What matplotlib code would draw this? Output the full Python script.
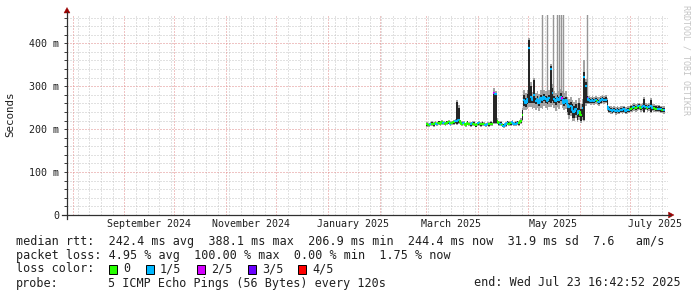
import matplotlib
matplotlib.use('Agg')
import matplotlib.pyplot as plt
import matplotlib.dates as mdates
import numpy as np
import datetime as dt
from matplotlib.collections import LineCollection
from matplotlib.patches import Rectangle, Polygon
from matplotlib.lines import Line2D

# ---------------- data (ms), one value per day starting 2025-03-01 ----------------
first_day = dt.datetime(2025, 3, 1)
median = [211,210,212,213,211,214,212,215,213,216,
          214,212,215,217,213,214,216,218,219,222,
          216,213,214,210,215,212,211,214,213,209,
          212,214,211,213,212,210,212,211,213,212,
          284,282,218,214,213,210,208,212,215,213,
          214,216,212,213,215,214,218,232,268,262,
          270,389,275,268,280,265,270,262,272,268,
          275,270,266,272,340,285,270,265,272,268,
          275,270,262,268,258,252,255,245,240,248,
          236,242,232,250,322,300,272,268,266,267,
          265,268,266,264,267,270,268,269,255,246,
          244,243,245,242,244,243,245,244,246,243,
          244,245,248,250,252,249,251,253,250,252,
          254,252,250,251,253,250,249,248,247,248,
          246,245,244]
smoke_lo = [208,207,209,210,208,211,209,211,210,212,
            211,209,211,213,210,211,212,214,212,214,
            212,210,211,207,211,209,208,210,210,206,
            209,210,208,210,209,207,209,208,210,209,
            214,215,214,210,209,206,204,208,211,210,
            210,212,209,210,211,210,214,222,255,252,
            258,262,262,260,262,258,262,255,262,260,
            265,262,258,264,262,266,262,256,264,260,
            266,262,254,258,240,232,238,226,226,232,
            222,228,220,228,222,262,262,262,261,262,
            260,263,261,259,262,265,263,264,246,240,
            239,238,240,237,239,238,240,239,241,238,
            239,240,243,244,246,244,246,247,244,246,
            240,247,244,246,240,245,244,243,242,243,
            241,240,239]
smoke_hi = [214,213,215,216,214,217,215,218,216,219,
            217,215,218,220,216,217,219,222,263,250,
            219,216,217,213,218,215,214,217,216,212,
            215,217,214,216,215,213,215,214,216,215,
            286,284,222,217,216,213,211,215,218,216,
            217,219,215,216,218,217,222,245,280,272,
            282,408,300,276,315,272,278,270,280,276,
            282,278,274,280,348,295,278,272,280,276,
            284,278,272,276,266,262,264,258,254,258,
            250,260,248,258,333,310,278,273,271,272,
            270,273,271,269,272,275,273,274,268,251,
            249,248,250,247,249,248,250,249,251,248,
            249,250,253,255,257,254,256,258,255,257,
            270,257,255,256,268,255,254,253,252,253,
            251,250,249]
gray_lo = [206,205,207,208,206,209,207,209,208,210,
           209,207,209,211,208,209,210,212,210,212,
           210,208,209,205,209,207,206,208,208,204,
           207,208,206,208,207,205,207,206,208,207,
           212,212,212,208,207,204,202,206,209,208,
           208,210,207,208,209,208,212,220,245,244,
           248,252,252,246,250,244,250,242,250,246,
           254,250,244,252,252,256,250,242,252,246,
           256,250,244,248,232,224,230,218,220,226,
           216,222,214,222,218,255,258,258,257,258,
           256,259,257,255,258,261,259,260,242,237,
           236,235,237,234,236,235,237,236,238,235,
           236,237,240,241,243,241,243,244,241,243,
           237,244,241,243,237,242,241,240,239,240,
           238,237,236]
gray_hi = [216,215,217,218,216,219,217,220,218,221,
           219,217,220,222,218,219,221,224,268,256,
           221,218,219,215,220,217,216,219,218,214,
           217,219,216,218,217,215,217,216,218,217,
           296,290,225,219,218,215,213,217,220,218,
           219,221,217,218,220,219,225,250,292,284,
           292,412,310,286,320,284,290,282,292,288,
           292,290,286,292,352,305,290,284,292,288,
           294,290,284,288,276,270,274,268,264,268,
           262,272,258,270,360,318,285,278,276,277,
           275,278,276,274,277,280,278,279,273,255,
           253,252,254,251,253,252,254,253,255,252,
           253,254,257,259,261,258,260,262,259,261,
           274,261,259,260,272,259,258,257,256,257,
           255,254,253]
# thin outlier streaks (day offset from first_day, bottom, top in ms)
streak_day = [69.2, 72.2, 75.8, 78.2, 79.4, 80.6, 81.8, 96.2]
streak_lo = [262, 262, 265, 262, 264, 266, 262, 266]
streak_hi = [500, 500, 500, 500, 500, 500, 500, 500]
# lost pings out of 5 for each day
loss = [0,0,1,0,0,0,1,0,0,0,
        1,0,0,0,1,0,0,1,1,1,
        0,0,1,0,0,0,1,1,0,0,
        0,1,0,0,0,1,1,0,0,0,
        2,1,0,0,1,0,1,1,1,0,
        0,1,1,1,1,0,0,0,1,1,
        1,1,1,1,1,1,1,1,1,1,
        1,1,1,1,1,1,1,1,1,1,
        1,2,1,1,1,1,1,1,1,1,
        1,1,0,1,1,1,3,1,1,1,
        1,1,0,1,1,1,1,1,1,1,
        1,1,1,1,1,1,1,1,1,1,
        1,1,0,0,1,0,0,1,0,1,
        1,1,0,1,1,1,0,0,1,1,
        1,0,1]
loss_labels = ['0', '1/5', '2/5', '3/5', '4/5']
loss_colors = ['#26ff00', '#00b8ff', '#d400ff', '#6a00ff', '#ff0000']
y_ticks = [0, 100, 200, 300, 400]
y_tick_labels = ['0', '100 m', '200 m', '300 m', '400 m']
x_label_dates = [dt.datetime(2024, 9, 16), dt.datetime(2024, 11, 16), dt.datetime(2025, 1, 16),
                 dt.datetime(2025, 3, 16), dt.datetime(2025, 5, 16), dt.datetime(2025, 7, 16)]
x_labels = ['September 2024', 'November 2024', 'January 2025', 'March 2025', 'May 2025', 'July 2025']
end_time = dt.datetime(2025, 7, 23, 16, 42, 52)
start_time = end_time - dt.timedelta(days=360)

line1 = 'median rtt:  242.4 ms avg  388.1 ms max  206.9 ms min  244.4 ms now  31.9 ms sd  7.6   am/s'
line2 = 'packet loss: 4.95 % avg  100.00 % max  0.00 % min  1.75 % now'
probe_text = '5 ICMP Echo Pings (56 Bytes) every 120s'
end_text = 'end: Wed Jul 23 16:42:52 2025'

# ---------------- figure ----------------
W, H = 697, 297
fig = plt.figure(figsize=(W / 100, H / 100), dpi=100)
fig.patch.set_facecolor('white')

def fx(x):
    return x / W

def fy(y):
    return 1 - y / H

MONO = 'DejaVu Sans Mono'
ax = fig.add_axes([fx(67), fy(215), 601 / W, 200 / H])
ax.set_xlim(mdates.date2num(start_time), mdates.date2num(end_time))
ax.set_ylim(0, 466)
for s in ax.spines.values():
    s.set_visible(False)
ax.set_facecolor('white')

minor_c = '#c4c4c4'
major_c = '#e08a8a'
gkw = dict(lw=0.72, ls=(0, (1, 2)))
# horizontal grid
for v in range(20, 466, 20):
    if v % 100:
        ax.axhline(v, color=minor_c, zorder=0, **gkw)
for v in y_ticks[1:]:
    ax.axhline(v, color=major_c, zorder=0.5, **gkw)
# vertical grid: weeks (Sundays) and months
month_starts = []
m = dt.datetime(start_time.year, start_time.month, 1)
while m < end_time:
    if m > start_time:
        month_starts.append(m)
    m = dt.datetime(m.year + (m.month == 12), m.month % 12 + 1, 1)
d = dt.datetime(start_time.year, start_time.month, start_time.day)
while d.weekday() != 6:
    d += dt.timedelta(days=1)
while d < end_time:
    if d not in month_starts:
        ax.axvline(mdates.date2num(d), color=minor_c, zorder=0, **gkw)
    d += dt.timedelta(days=7)
for ms in month_starts:
    ax.axvline(mdates.date2num(ms), color=major_c, zorder=0.5, **gkw)

# ---------------- smoke + median ----------------
n = len(median)
base = mdates.date2num(first_day)
x0 = base + np.arange(n)
glo, ghi = np.array(gray_lo), np.array(gray_hi)
slo, shi = np.array(smoke_lo), np.array(smoke_hi)
ax.bar(x0, ghi - glo, bottom=glo, width=1.0, align='edge', color='#a4a4a4', lw=0, zorder=2)
ax.vlines(base + np.array(streak_day), streak_lo, streak_hi, color='#969696', lw=1.0, zorder=2)
ax.bar(x0, shi - slo, bottom=slo, width=1.0, align='edge', color='#262626', lw=0, zorder=3)

segs, cols = [], []
for i in range(n):
    prev = median[i - 1] if i > 0 else median[i]
    if abs(prev - median[i]) <= 10:
        segs.append([(x0[i], prev), (x0[i], median[i]), (x0[i] + 1, median[i])])
    else:
        segs.append([(x0[i], median[i]), (x0[i] + 1, median[i])])
    cols.append(loss_colors[loss[i]])
ax.add_collection(LineCollection(segs, colors=cols, linewidths=1.5, zorder=4, capstyle='butt'))

# ---------------- ticks ----------------
ax.set_yticks(y_ticks, y_tick_labels, fontfamily=MONO, fontsize=7.2, color='#202020')
ax.set_yticks(range(20, 466, 20), minor=True)
ax.tick_params(axis='y', which='both', direction='out', length=2.2, width=0.72, color='#404040', pad=3.6)
ax.set_xticks([mdates.date2num(t) for t in x_label_dates], x_labels, fontfamily=MONO, fontsize=7.2,
              color='#202020')
ax.tick_params(axis='x', which='both', length=0, pad=3.2)

# ---------------- axes lines and arrows ----------------
axc = '#303030'
arc = '#9b0000'
fig.add_artist(Line2D([fx(67), fx(67)], [fy(219), fy(12)], color=axc, lw=0.9))
fig.add_artist(Line2D([fx(62), fx(670)], [fy(215), fy(215)], color=axc, lw=0.9))
fig.add_artist(Polygon([(fx(64), fy(13)), (fx(70), fy(13)), (fx(67), fy(7.5))], closed=True,
                       facecolor=arc, edgecolor=arc, lw=0.3))
fig.add_artist(Polygon([(fx(668.5), fy(212)), (fx(668.5), fy(218)), (fx(674), fy(215))], closed=True,
                       facecolor=arc, edgecolor=arc, lw=0.3))

# ---------------- labels ----------------
fig.text(fx(10), fy(114), 'Seconds', rotation=90, ha='center', va='center', fontsize=7.8,
         family=MONO, color='#202020')
fig.text(fx(686), fy(5), 'RRDTOOL / TOBI OETIKER', rotation=270, ha='center', va='top',
         fontsize=6.0, family=MONO, color='#c4c4c4')

fs = 8.5
tc = '#202020'
fig.text(fx(15.6), fy(241), line1, ha='left', va='center', fontsize=fs, family=MONO, color=tc)
fig.text(fx(15.6), fy(255), line2, ha='left', va='center', fontsize=fs, family=MONO, color=tc)
fig.text(fx(15.6), fy(269), 'loss color:', ha='left', va='center', fontsize=fs, family=MONO, color=tc)
box_x = [109, 146, 197, 248, 298]
lab_x = [123, 160, 211, 262, 312]
for bx, lx, lab, col in zip(box_x, lab_x, loss_labels, loss_colors):
    fig.add_artist(Rectangle((fx(bx), fy(274)), 8 / W, 9 / H, facecolor=col, edgecolor='black', lw=0.7))
    fig.text(fx(lx), fy(269), lab, ha='left', va='center', fontsize=fs, family=MONO, color=tc)
fig.text(fx(15.6), fy(283), 'probe:', ha='left', va='center', fontsize=fs, family=MONO, color=tc)
fig.text(fx(107.5), fy(283), probe_text, ha='left', va='center', fontsize=fs, family=MONO, color=tc)
fig.text(fx(681), fy(283), end_text, ha='right', va='center', fontsize=fs, family=MONO, color=tc)

fig.savefig('out.png', dpi=100, facecolor='white')
